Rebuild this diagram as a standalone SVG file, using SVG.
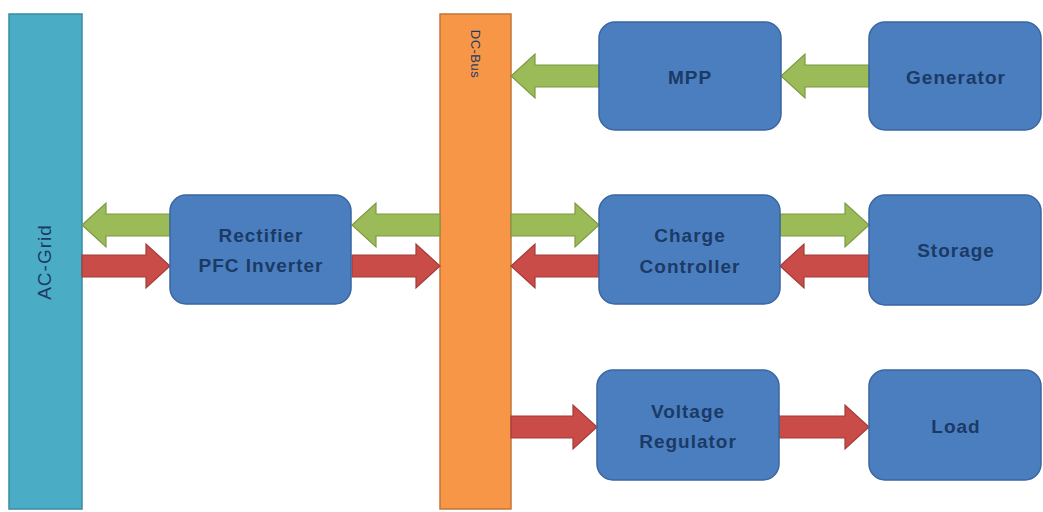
<svg xmlns="http://www.w3.org/2000/svg" width="1043" height="512" viewBox="0 0 1043 512">
  <defs>
    <style>
      .box { fill: #4a7ebf; stroke: #3a66a0; stroke-width: 1.5; }
      .lbl { font-family: "Liberation Sans", Arial, sans-serif; font-size: 19px; font-weight: bold; letter-spacing: 1px; fill: #1b3a66; text-anchor: middle; }
      .green { fill: #9bbb59; stroke: #7d9a42; stroke-width: 1.2; }
      .red { fill: #c94c48; stroke: #a23c38; stroke-width: 1.2; }
    </style>
  </defs>
  <rect width="1043" height="512" fill="#ffffff"/>

  <g id="ac-grid">
    <rect x="9" y="14" width="73" height="495" fill="#4bacc6" stroke="#3a8aa2" stroke-width="1.5"/>
    <text class="lbl" style="font-weight:normal;letter-spacing:1px" font-size="19" transform="translate(51,262) rotate(-90)">AC-Grid</text>
  </g>

  <g id="dc-bus">
    <rect x="440" y="14" width="71" height="495" fill="#f79646" stroke="#c47638" stroke-width="1.5"/>
    <text class="lbl" style="font-size:13px;font-weight:normal;letter-spacing:0.5px" transform="translate(471,54) rotate(90)">DC-Bus</text>
  </g>

  <g id="connectors">
    <polygon class="green" points="599,65 535,65 535,54 511,76 535,98 535,87 599,87"/>
    <polygon class="green" points="869,65 805,65 805,54 781,76 805,98 805,87 869,87"/>
    <polygon class="green" points="170,214 106,214 106,203 82,225 106,247 106,236 170,236"/>
    <polygon class="red" points="82,255 146,255 146,244 170,266 146,288 146,277 82,277"/>
    <polygon class="green" points="440,214 376,214 376,203 352,225 376,247 376,236 440,236"/>
    <polygon class="red" points="352,255 416,255 416,244 440,266 416,288 416,277 352,277"/>
    <polygon class="green" points="511,214 575,214 575,203 599,225 575,247 575,236 511,236"/>
    <polygon class="red" points="599,255 535,255 535,244 511,266 535,288 535,277 599,277"/>
    <polygon class="green" points="780,214 845,214 845,203 869,225 845,247 845,236 780,236"/>
    <polygon class="red" points="869,255 804,255 804,244 780,266 804,288 804,277 869,277"/>
    <polygon class="red" points="511,416 573,416 573,405 597,427 573,449 573,438 511,438"/>
    <polygon class="red" points="779,416 845,416 845,405 869,427 845,449 845,438 779,438"/>
  </g>

  <g id="mpp">
    <rect class="box" x="599" y="22" width="182" height="108" rx="16"/>
    <text class="lbl" x="690" y="84">MPP</text>
  </g>
  <g id="generator">
    <rect class="box" x="869" y="22" width="172" height="108" rx="16"/>
    <text class="lbl" x="956" y="84">Generator</text>
  </g>
  <g id="rectifier">
    <rect class="box" x="170" y="195" width="181" height="109" rx="16"/>
    <text class="lbl" x="261" y="242">Rectifier</text>
    <text class="lbl" x="261" y="272">PFC Inverter</text>
  </g>
  <g id="charge-controller">
    <rect class="box" x="599" y="195" width="181" height="109" rx="16"/>
    <text class="lbl" x="690" y="242">Charge</text>
    <text class="lbl" x="690" y="273">Controller</text>
  </g>
  <g id="storage">
    <rect class="box" x="869" y="195" width="172" height="110" rx="16"/>
    <text class="lbl" x="956" y="257">Storage</text>
  </g>
  <g id="voltage-regulator">
    <rect class="box" x="597" y="370" width="182" height="110" rx="16"/>
    <text class="lbl" x="688" y="418">Voltage</text>
    <text class="lbl" x="688" y="448">Regulator</text>
  </g>
  <g id="load">
    <rect class="box" x="869" y="370" width="172" height="110" rx="16"/>
    <text class="lbl" x="956" y="433">Load</text>
  </g>
</svg>
